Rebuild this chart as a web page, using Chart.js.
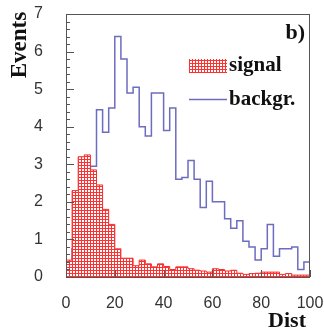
<!DOCTYPE html>
<html>
<head>
    <title>Dist</title>
    <meta charset="UTF-8">
    <script src="https://cdn.jsdelivr.net/npm/chart.js"></script>
    <style>
        html, body { margin: 0; padding: 0; background: #fff; }
        #wrap { width: 324px; height: 329px; position: relative; }
    </style>
</head>
<body>
    <div id="wrap"><canvas id="chart" width="324" height="329"></canvas></div>
    <script>
        // histogram: 40 bins of width 2.5 from 0 to 100
        const binWidth = 2.5;
        const xTicks = [0, 20, 40, 60, 80, 100];
        const yTicks = [0, 1, 2, 3, 4, 5, 6, 7];
        const background = [0.1, 0.75, 1.4, 2.3, 2.95, 4.45, 3.85, 4.5, 6.4, 5.8,
            4.9, 5.05, 4.0, 3.75, 4.9, 4.9, 3.9, 4.5, 2.6, 2.65,
            3.1, 2.6, 1.85, 2.55, 2.0, 2.0, 1.55, 1.3, 1.5, 0.95,
            0.8, 0.45, 0.75, 1.4, 0.55, 0.75, 0.75, 0.8, 0.2, 0.4];
        const signal = [0.45, 2.3, 3.2, 3.25, 2.85, 2.45, 1.8, 1.4, 0.75, 0.5,
            0.5, 0.3, 0.45, 0.35, 0.27, 0.35, 0.28, 0.2, 0.27, 0.27,
            0.22, 0.18, 0.16, 0.13, 0.22, 0.2, 0.16, 0.18, 0.1, 0.07,
            0.09, 0.1, 0.13, 0.13, 0.13, 0.07, 0.09, 0.05, 0.05, 0.05];

        // turn bin contents into step points (left edges + closing edge)
        function steps(vals) {
            var pts = [{x: 0, y: 0}];
            vals.forEach(function (v, i) { pts.push({x: i * binWidth, y: v}); });
            pts.push({x: vals.length * binWidth, y: vals[vals.length - 1]});
            pts.push({x: vals.length * binWidth, y: 0});
            return pts;
        }

        var canvas = document.getElementById('chart');
        var ctx = canvas.getContext('2d');

        // red cross-hatch fill
        var tile = document.createElement('canvas');
        tile.width = 3; tile.height = 3;
        var tg = tile.getContext('2d');
        tg.fillStyle = '#ff3030';
        tg.fillRect(0, 0, 3, 3);
        tg.fillStyle = '#ffffff';
        tg.fillRect(1, 1, 2, 2);
        var hatch = ctx.createPattern(tile, 'repeat');

        var blue = '#6c6cc0';
        var red = '#f03030';
        var serif = '"Liberation Serif", "Times New Roman", serif';

        var decor = {
            id: 'decor',
            afterDatasetsDraw: function (chart) {
                var c = chart.ctx, a = chart.chartArea;
                var xs = chart.scales.x, ys = chart.scales.y;
                c.save();
                c.strokeStyle = '#555';
                c.lineWidth = 1;
                c.strokeRect(a.left + 0.5, a.top + 0.5, a.right - a.left - 1, a.bottom - a.top);
                c.beginPath();
                // y ticks, inside, 0.2 minor
                for (var i = 0; i <= 35; i++) {
                    var py = Math.round(ys.getPixelForValue(i * 0.2)) + 0.5;
                    var len = (i % 5 === 0) ? 8 : 4;
                    c.moveTo(a.left, py);
                    c.lineTo(a.left + len, py);
                }
                // x ticks, inside
                xTicks.forEach(function (t) {
                    var px = Math.round(xs.getPixelForValue(t)) + 0.5;
                    c.moveTo(px, a.bottom);
                    c.lineTo(px, a.bottom - 7);
                });
                c.stroke();

                // texts
                c.fillStyle = '#111';
                c.font = 'bold 22px ' + serif;
                c.textAlign = 'right';
                c.textBaseline = 'middle';
                c.fillText('b)', 305, 33);

                c.font = 'bold 21px ' + serif;
                c.textAlign = 'left';
                c.fillText('signal', 229, 66);
                c.fillText('backgr.', 229, 100);
                c.fillStyle = hatch;
                c.fillRect(189, 59, 38, 14);
                c.strokeStyle = blue;
                c.lineWidth = 1.5;
                c.beginPath();
                c.moveTo(189, 99.5);
                c.lineTo(227, 99.5);
                c.stroke();

                c.fillStyle = '#111';
                c.font = 'bold 22px ' + serif;
                c.textAlign = 'right';
                c.fillText('Dist', 306, 321);

                c.translate(20, 45);
                c.rotate(-Math.PI / 2);
                c.textAlign = 'center';
                c.font = 'bold 23px ' + serif;
                c.fillText('Events', 0, 0);
                c.restore();
            }
        };

        var chart = new Chart(ctx, {
            type: 'line',
            data: {
                datasets: [
                    {
                        label: 'signal',
                        data: steps(signal),
                        stepped: true,
                        borderColor: red,
                        borderWidth: 1,
                        backgroundColor: hatch,
                        fill: 'origin',
                        pointRadius: 0
                    },
                    {
                        label: 'backgr.',
                        data: steps(background),
                        stepped: true,
                        borderColor: blue,
                        borderWidth: 1.5,
                        fill: false,
                        pointRadius: 0
                    }
                ]
            },
            options: {
                responsive: false,
                animation: false,
                layout: { padding: { top: 14, right: 14, left: 0, bottom: 0 } },
                plugins: { legend: { display: false }, tooltip: { enabled: false } },
                scales: {
                    x: {
                        type: 'linear',
                        min: 0, max: 100,
                        grid: { display: false },
                        border: { display: false },
                        afterFit: function (s) { s.height = 52; s.paddingLeft = 0; s.paddingRight = 0; },
                        afterBuildTicks: function (s) { s.ticks = xTicks.map(function (v) { return {value: v}; }); },
                        ticks: { padding: 9, color: '#333', font: { family: '"Liberation Sans", Arial, sans-serif', size: 16 } }
                    },
                    y: {
                        min: 0, max: 7,
                        grid: { display: false },
                        border: { display: false },
                        afterFit: function (s) { s.width = 66; s.paddingTop = 0; s.paddingBottom = 0; },
                        afterBuildTicks: function (s) { s.ticks = yTicks.map(function (v) { return {value: v}; }); },
                        ticks: { padding: 15, color: '#333', font: { family: '"Liberation Sans", Arial, sans-serif', size: 16 } }
                    }
                }
            },
            plugins: [decor]
        });
    </script>
</body>
</html>
